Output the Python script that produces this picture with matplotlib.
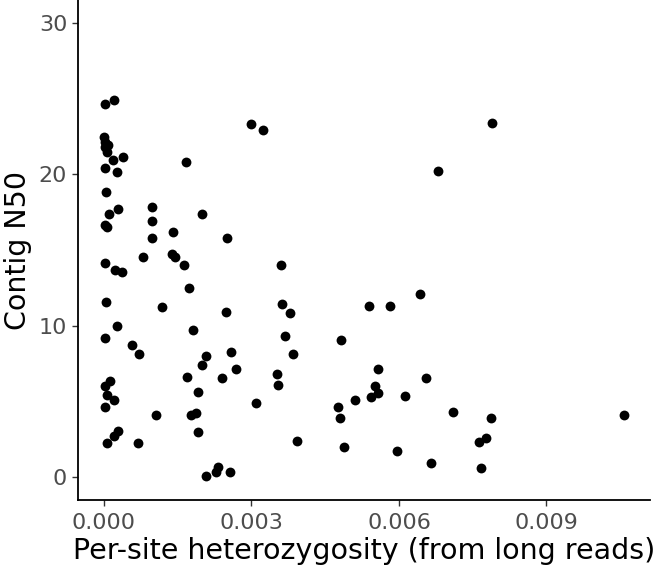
import matplotlib
matplotlib.use("Agg")
import matplotlib.pyplot as plt

# per-site heterozygosity (from long reads) and contig N50
het = [
    0.00002, 0.000205, 0.002988, 0.003227, 0.000006, 0.00002, 0.000088, 0.00002,
    0.000068, 0.000395, 0.000178, 0.001672, 0.00002, 0.000266, 0.000035, 0.000293,
    0.000982, 0.000096, 0.001991, 0.000027, 0.000055, 0.000982, 0.001398, 0.000982,
    0.002511, 0.000792, 0.001385, 0.001453, 0.001623, 0.000014, 0.000225, 0.000362,
    0.001725, 0.000035, 0.001181, 0.002476, 0.00026, 0.001807, 0.00002, 0.000567,
    0.000716, 0.002081, 0.002593, 0.001991, 0.002681, 0.000129, 0.00002, 0.001692,
    0.002409, 0.000068, 0.000211, 0.001917, 0.00002, 0.00309, 0.00107, 0.001774,
    0.001877, 0.001924, 0.000293, 0.000211, 0.000055, 0.000696, 0.002067, 0.002327,
    0.002272, 0.002558, 0.006794, 0.003602, 0.00642, 0.003622, 0.003792, 0.005396,
    0.005826, 0.00369, 0.004815, 0.003847, 0.00352, 0.003534, 0.005566, 0.006542,
    0.005505, 0.005581, 0.005429, 0.005102, 0.006125, 0.004754, 0.004803, 0.003929,
    0.004885, 0.005955, 0.006657, 0.007885, 0.007095, 0.007873, 0.007762, 0.007627,
    0.00766, 0.010566,
]
n50 = [
    24.64, 24.90, 23.30, 22.91, 22.49, 22.16, 21.94, 21.79,
    21.50, 21.11, 20.91, 20.82, 20.41, 20.12, 18.80, 17.71,
    17.82, 17.40, 17.40, 16.63, 16.53, 16.89, 16.22, 15.82,
    15.82, 14.53, 14.75, 14.53, 14.00, 14.13, 13.65, 13.52,
    12.47, 11.57, 11.22, 10.93, 10.01, 9.72, 9.22, 8.74,
    8.13, 8.01, 8.24, 7.40, 7.14, 6.35, 6.04, 6.63,
    6.55, 5.43, 5.12, 5.63, 4.64, 4.92, 4.13, 4.13,
    4.22, 3.01, 3.04, 2.71, 2.25, 2.25, 0.10, 0.67,
    0.38, 0.38, 20.21, 14.00, 12.12, 11.41, 10.82, 11.33,
    11.33, 9.31, 9.03, 8.13, 6.83, 6.11, 7.14, 6.53,
    6.04, 5.54, 5.32, 5.12, 5.34, 4.64, 3.91, 2.42,
    2.03, 1.72, 0.97, 23.39, 4.33, 3.91, 2.62, 2.32,
    0.61, 4.13,
]
xticks = [0.000, 0.003, 0.006, 0.009]
yticks = [0, 10, 20, 30]

fig = plt.figure(figsize=(6.59, 5.71), dpi=100)
ax = fig.add_axes([0.1188, 0.1243, 0.8672, 0.8757])

ax.scatter(het, n50, s=50, color='black', linewidths=0)

ax.set_xlim(-0.00052, 0.0111)
ax.set_ylim(-1.5, 31.5)
ax.set_xticks(xticks)
ax.set_xticklabels([f'{t:.3f}' for t in xticks])
ax.set_yticks(yticks)

for side in ['top', 'right']:
    ax.spines[side].set_visible(False)
for side in ['left', 'bottom']:
    ax.spines[side].set_linewidth(1.3)
    ax.spines[side].set_color('black')

ax.tick_params(length=4, width=1.0, color='#333333', labelcolor='#4D4D4D',
               labelsize=16)
ax.tick_params(axis='x', pad=5)
ax.tick_params(axis='y', pad=4)

ax.set_xlabel('Per-site heterozygosity (from long reads)', fontsize=20.5, labelpad=3)
ax.set_ylabel('Contig N50', fontsize=20.5, labelpad=5)

fig.savefig('out.png', dpi=100)
